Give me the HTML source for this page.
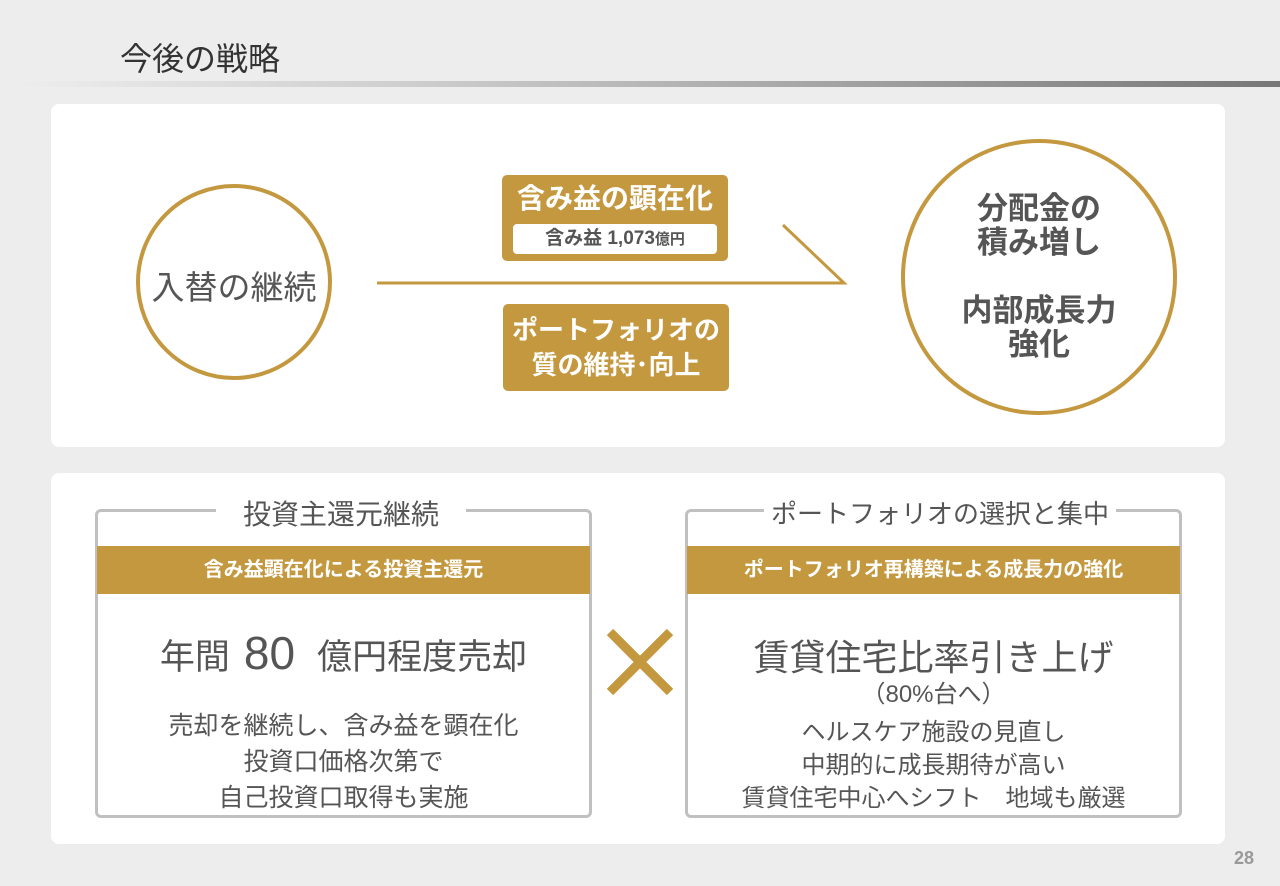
<!DOCTYPE html>
<html><head><meta charset="utf-8"><style>
*{margin:0;padding:0;box-sizing:border-box}
body{width:1280px;height:886px;background:#ededed;position:relative;overflow:hidden;font-family:"Liberation Sans","Noto Sans CJK JP",sans-serif;color:#444}
.a{position:absolute}
.panel{position:absolute;background:#fff;border-radius:8px}
.gold{background:#c4983f;color:#fff;font-weight:bold;text-align:center}
.c{text-align:center;white-space:nowrap}
.box{position:absolute;border:3px solid #c0c0c0;border-radius:6px}
</style></head><body>
<div class="a" style="left:120px;top:34px;font-size:32px;color:#333;">今後の戦略</div>
<div class="a" style="left:20px;top:81px;width:1260px;height:6px;background:linear-gradient(to right,rgba(120,120,120,0),#cfcfcf 30%,#777)"></div>

<div class="panel" style="left:51px;top:104px;width:1174px;height:343px"></div>
<div class="panel" style="left:51px;top:473px;width:1174px;height:371px"></div>

<svg class="a" style="left:0;top:0" width="1280" height="886">
<circle cx="234" cy="282" r="96" fill="none" stroke="#c4983f" stroke-width="4"/>
<circle cx="1039" cy="277" r="136" fill="none" stroke="#c4983f" stroke-width="4"/>
<polyline points="377,283 844,283 783,225" fill="none" stroke="#c4983f" stroke-width="3"/>
<line x1="610" y1="632" x2="670" y2="692" stroke="#c4983f" stroke-width="9"/>
<line x1="670" y1="632" x2="610" y2="692" stroke="#c4983f" stroke-width="9"/>
</svg>

<div class="a c" style="left:134px;top:261px;width:200px;font-size:33px;color:#555">入替の継続</div>
<div class="a c" style="left:903px;top:192px;width:272px;font-size:31px;font-weight:bold;line-height:34px;color:#555">分配金の<br>積み増し<br><div style="height:34px"></div>内部成長力<br>強化</div>

<div class="a gold" style="left:502px;top:175px;width:226px;height:86px;border-radius:5px">
<div style="font-size:28px;margin-top:7px;line-height:34px">含み益の顕在化</div>
<div style="position:absolute;left:11px;top:49px;width:204px;height:30px;background:#fff;border-radius:4px;color:#555;font-size:19px;line-height:30px">含み益 1,073<span style="font-size:15px">億円</span></div>
</div>
<div class="a gold" style="left:503px;top:304px;width:226px;height:87px;border-radius:5px;font-size:26px;line-height:35px;padding-top:9px">ポートフォリオの<br>質の維持･向上</div>

<div class="box" style="left:95px;top:509px;width:497px;height:309px"></div>
<div class="a c" style="left:216px;top:493px;width:250px;background:#fff;font-size:28px;color:#555">投資主還元継続</div>
<div class="a gold" style="left:97px;top:546px;width:493px;height:48px;line-height:48px;font-size:20px">含み益顕在化による投資主還元</div>
<div class="a c" style="left:97px;top:626px;width:493px;font-size:35px;color:#555">年間<span style="font-size:46px;margin:0 22px 0 14px">80</span>億円程度売却</div>
<div class="a c" style="left:97px;top:708px;width:493px;font-size:25px;line-height:36px;color:#555">売却を継続し、含み益を顕在化<br>投資口価格次第で<br>自己投資口取得も実施</div>

<div class="box" style="left:685px;top:509px;width:497px;height:309px"></div>
<div class="a c" style="left:764px;top:494px;width:352px;background:#fff;font-size:26px;color:#555">ポートフォリオの選択と集中</div>
<div class="a gold" style="left:687px;top:546px;width:493px;height:48px;line-height:48px;font-size:20px">ポートフォリオ再構築による成長力の強化</div>
<div class="a c" style="left:687px;top:629px;width:493px;font-size:36px;color:#555">賃貸住宅比率引き上げ</div>
<div class="a c" style="left:687px;top:674px;width:493px;font-size:24px;color:#555">（80%台へ）</div>
<div class="a c" style="left:687px;top:716px;width:493px;font-size:24px;line-height:33px;color:#555">ヘルスケア施設の見直し<br>中期的に成長期待が高い<br>賃貸住宅中心へシフト　地域も厳選</div>

<div class="a" style="left:1234px;top:848px;font-size:18px;font-weight:bold;color:#999">28</div>
</body></html>
